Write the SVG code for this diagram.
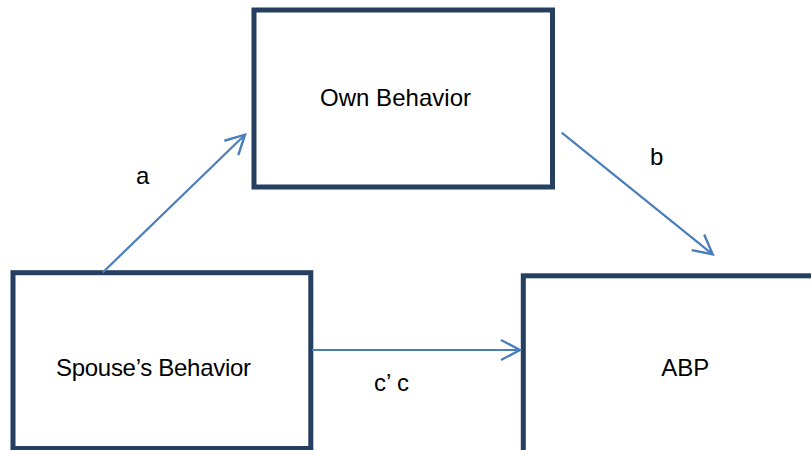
<svg xmlns="http://www.w3.org/2000/svg" width="811" height="450" viewBox="0 0 811 450">
  <style>
    .box { fill: #ffffff; stroke: #243F60; stroke-width: 5; }
    .lbl { font-family: "Liberation Sans", Arial, sans-serif; font-size: 24px; fill: #000000; }
    .edge { fill: none; stroke: #4A7EBB; stroke-width: 2.2; }
  </style>
  <defs>
    <marker id="arrow" markerUnits="userSpaceOnUse" markerWidth="30" markerHeight="30" viewBox="-25 -15 30 30" refX="0" refY="0" orient="auto" overflow="visible">
      <path d="M -19 -10 L 0 0 L -19 10" fill="none" stroke="#4A7EBB" stroke-width="2.4" stroke-linejoin="miter"/>
    </marker>
  </defs>
  <rect width="811" height="450" fill="#ffffff"/>
  <g id="own-behavior">
    <rect class="box" x="254" y="10" width="298.5" height="177"/>
    <text class="lbl" x="320" y="106" textLength="151">Own Behavior</text>
  </g>
  <g id="spouse-behavior">
    <rect class="box" x="13" y="272.7" width="297.8" height="175.8"/>
    <text class="lbl" x="56" y="376" textLength="195">Spouse’s Behavior</text>
  </g>
  <g id="abp">
    <rect class="box" x="523.3" y="275.8" width="320" height="220"/>
    <text class="lbl" x="685.3" y="376" text-anchor="middle" font-size="22">ABP</text>
  </g>
  <g id="connectors">
    <line class="edge" x1="102.7" y1="272.5" x2="245" y2="134.7" marker-end="url(#arrow)"/>
    <line class="edge" x1="561.7" y1="132.7" x2="712.7" y2="254.3" marker-end="url(#arrow)"/>
    <line class="edge" x1="312" y1="350" x2="520" y2="350" marker-end="url(#arrow)"/>
    <text class="lbl" x="136" y="184">a</text>
    <text class="lbl" x="650" y="165">b</text>
    <text class="lbl" x="374" y="391">c’ c</text>
  </g>
</svg>
